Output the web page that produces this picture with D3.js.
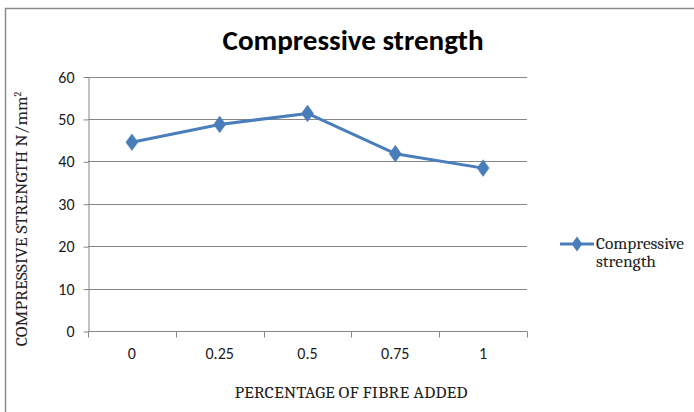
<!DOCTYPE html>
<html><head><meta charset="utf-8">
<script src="https://cdn.jsdelivr.net/npm/d3@7/dist/d3.min.js"></script>
<style>body{margin:0;background:#fff}svg{display:block}</style>
</head><body>
<svg id="c" width="694" height="412"></svg>
<script>
const categories = ["0", "0.25", "0.5", "0.75", "1"];
const values = [44.5, 48.7, 51.3, 41.8, 38.4];
const yTicks = [0, 10, 20, 30, 40, 50, 60];
const seriesName = "Compressive strength";

const svg = d3.select("#c");
const W = 694, H = 412;
const m = {left: 88, right: 527, top: 76.5, bottom: 331};
const serif = "Cambria, 'Liberation Serif', 'DejaVu Serif', serif";
const sans = "Calibri, Carlito, Lato, 'Open Sans', sans-serif";
const axisColor = "#868686";

// outer frame
svg.append("rect").attr("x", 5.5).attr("y", 8.5).attr("width", W + 10).attr("height", H + 10)
  .attr("fill", "none").attr("stroke", "#8c8c8c").attr("stroke-width", 1.5);

const x = d3.scaleBand().domain(categories).range([m.left, m.right]);
const y = d3.scaleLinear().domain([0, 60]).range([m.bottom, m.top]);

// gridlines
svg.append("g").selectAll("line").data(yTicks.filter(d => d > 0)).join("line")
  .attr("x1", m.left).attr("x2", m.right)
  .attr("y1", d => Math.round(y(d)) + 0.5).attr("y2", d => Math.round(y(d)) + 0.5)
  .attr("stroke", axisColor).attr("stroke-width", 1);

// y axis
const yAxis = d3.axisLeft(y).tickValues(yTicks).tickSize(5).tickPadding(9).tickSizeOuter(0);
const gy = svg.append("g").attr("transform", `translate(${m.left + 0.5},0.5)`).call(yAxis);
gy.selectAll("text").attr("font-family", sans).attr("font-size", 16).attr("fill", "#1a1a1a");
gy.selectAll("line, path").attr("stroke", axisColor);

// x axis with ticks at band boundaries
const gx = svg.append("g").attr("transform", `translate(0,${Math.round(m.bottom) + 0.5})`);
gx.append("line").attr("x1", m.left).attr("x2", m.right).attr("stroke", axisColor);
const bounds = categories.map(c => x(c)).concat([m.right]);
gx.selectAll(".tk").data(bounds).join("line").attr("class", "tk")
  .attr("x1", d => Math.round(d) + 0.5).attr("x2", d => Math.round(d) + 0.5)
  .attr("y1", 0).attr("y2", 6).attr("stroke", axisColor);
gx.selectAll("text").data(categories).join("text")
  .attr("x", d => x(d) + x.bandwidth() / 2).attr("y", 27)
  .attr("text-anchor", "middle").attr("font-family", sans).attr("font-size", 16).attr("fill", "#1a1a1a")
  .text(d => d);

// line
const color = "#4a7ebb";
const pts = categories.map((c, i) => [x(c) + x.bandwidth() / 2, y(values[i])]);
svg.append("path").attr("d", d3.line()(pts)).attr("fill", "none")
  .attr("stroke", color).attr("stroke-width", 3).attr("stroke-linejoin", "round");
const diamond = d3.symbol().type(d3.symbolDiamond).size(80);
svg.append("g").selectAll("path").data(pts).join("path")
  .attr("d", diamond).attr("transform", d => `translate(${d[0]},${d[1]}) scale(1.25,1)`)
  .attr("fill", color).attr("stroke", color).attr("stroke-width", 0.5);

// title
svg.append("text").attr("x", 353).attr("y", 50).attr("text-anchor", "middle")
  .attr("font-family", sans).attr("font-weight", "bold").attr("font-size", 28).attr("fill", "#000")
  .attr("textLength", 261).attr("lengthAdjust", "spacingAndGlyphs")
  .text("Compressive strength");

// axis titles
const yt = svg.append("text").attr("transform", "translate(27,219) rotate(-90)")
  .attr("text-anchor", "middle").attr("font-family", serif).attr("font-size", 16).attr("fill", "#222");
yt.append("tspan").attr("textLength", 250).attr("lengthAdjust", "spacingAndGlyphs").text("COMPRESSIVE STRENGTH N/mm");
yt.append("tspan").attr("font-size", 10).attr("dy", -6).text("2");

svg.append("text").attr("x", 351).attr("y", 398).attr("text-anchor", "middle")
  .attr("font-family", serif).attr("font-size", 16).attr("fill", "#222")
  .attr("textLength", 233).attr("lengthAdjust", "spacingAndGlyphs")
  .text("PERCENTAGE OF FIBRE ADDED");

// legend
const lg = svg.append("g");
lg.append("line").attr("x1", 560).attr("x2", 594).attr("y1", 244).attr("y2", 244)
  .attr("stroke", color).attr("stroke-width", 3);
lg.append("path").attr("d", diamond).attr("transform", "translate(577,244) scale(1.1,0.9)").attr("fill", color);
const lt = lg.append("text").attr("font-family", serif).attr("font-size", 16.5).attr("fill", "#222");
lt.append("tspan").attr("x", 596).attr("y", 249).attr("textLength", 88).attr("lengthAdjust", "spacingAndGlyphs").text(seriesName.split(" ")[0]);
lt.append("tspan").attr("x", 596).attr("y", 267).attr("textLength", 60).attr("lengthAdjust", "spacingAndGlyphs").text(seriesName.split(" ")[1]);
</script>
</body></html>
